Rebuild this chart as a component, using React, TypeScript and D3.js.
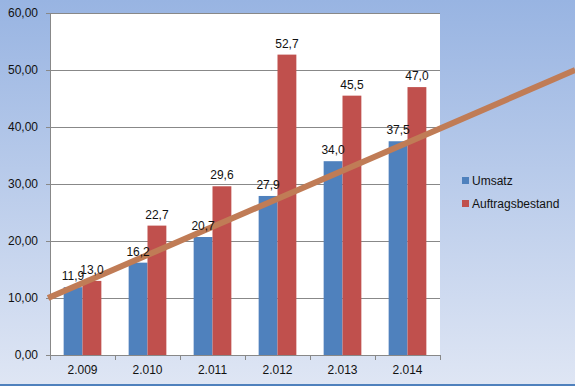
import React from "react";
import * as d3 from "d3";

const years = ["2.009", "2.010", "2.011", "2.012", "2.013", "2.014"];
const umsatz = [11.9, 16.2, 20.7, 27.9, 34.0, 37.5];
const auftragsbestand = [13.0, 22.7, 29.6, 52.7, 45.5, 47.0];
const yTicks = [0, 10, 20, 30, 40, 50, 60];
// trend line endpoints: [category position (0 = first category center), value]
const trendPoints: [number, number][] = [
  [-0.53, 10.0],
  [7.58, 50.0],
];
const seriesNames = ["Umsatz", "Auftragsbestand"];
const seriesColors = ["#4f81bd", "#c0504d"];

const W = 575;
const H = 386;
const plot = { left: 50, right: 440, top: 13, bottom: 355 };
const FONT = "'Liberation Sans', Arial, sans-serif";

const fmt2 = (v: number) => v.toFixed(2).replace(".", ",");
const fmt1 = (v: number) => v.toFixed(1).replace(".", ",");

export default function App() {
  const x = d3.scaleBand<string>().domain(years).range([plot.left, plot.right]).paddingInner(0).paddingOuter(0);
  const y = d3.scaleLinear().domain([0, 60]).range([plot.bottom, plot.top]);
  const bw = x.bandwidth();
  const barW = bw * 0.29;
  const catPos = d3
    .scaleLinear()
    .domain([0, 1])
    .range([plot.left + bw / 2, plot.left + bw * 1.5]);
  const trendLine = d3
    .line<[number, number]>()
    .x((d) => catPos(d[0]))
    .y((d) => y(d[1]));

  const series = [umsatz, auftragsbestand];

  return (
    <svg
      width={W}
      height={H}
      style={{ position: "fixed", left: 0, top: 0, display: "block" }}
      fontFamily={FONT}
    >
      <defs>
        <linearGradient id="bg" x1="0" y1="0" x2="0" y2="1">
          <stop offset="0" stopColor="#98b4e2" />
          <stop offset="1" stopColor="#dfe6f4" />
        </linearGradient>
      </defs>
      <rect x={0} y={0} width={W} height={H} fill="url(#bg)" />
      <rect x={0} y={H - 2} width={W} height={2} fill="#4f81bd" />
      <rect
        x={plot.left}
        y={plot.top}
        width={plot.right - plot.left}
        height={plot.bottom - plot.top}
        fill="#ffffff"
      />
      {yTicks.map((t) => (
        <g key={t}>
          <line
            x1={plot.left - 4}
            x2={t === 0 ? plot.left : plot.right}
            y1={y(t)}
            y2={y(t)}
            stroke="#888888"
            strokeWidth={1}
            shapeRendering="crispEdges"
          />
          <text x={38} y={y(t) + 4} textAnchor="end" fontSize={12} fill="#111">
            {fmt2(t)}
          </text>
        </g>
      ))}
      {series.map((vals, si) =>
        vals.map((v, i) => (
          <rect
            key={`${si}-${i}`}
            x={x(years[i])! + bw / 2 - barW + si * barW}
            y={y(v)}
            width={barW}
            height={y(0) - y(v)}
            fill={seriesColors[si]}
          />
        ))
      )}
      <line
        x1={plot.left}
        x2={plot.left}
        y1={plot.top}
        y2={plot.bottom}
        stroke="#888888"
        shapeRendering="crispEdges"
      />
      <line
        x1={plot.left}
        x2={plot.right}
        y1={plot.bottom}
        y2={plot.bottom}
        stroke="#888888"
        shapeRendering="crispEdges"
      />
      {d3.range(years.length + 1).map((i) => (
        <line
          key={i}
          x1={plot.left + i * bw}
          x2={plot.left + i * bw}
          y1={plot.bottom}
          y2={plot.bottom + 5}
          stroke="#888888"
          shapeRendering="crispEdges"
        />
      ))}
      {years.map((yr) => (
        <text key={yr} x={x(yr)! + bw / 2} y={374} textAnchor="middle" fontSize={12} fill="#111">
          {yr}
        </text>
      ))}
      <path d={trendLine(trendPoints)!} stroke="#c07c56" strokeWidth={6} fill="none" />
      {series.map((vals, si) =>
        vals.map((v, i) => (
          <text
            key={`l${si}-${i}`}
            x={x(years[i])! + bw / 2 - barW / 2 + si * barW}
            y={y(v) - 7}
            textAnchor="middle"
            fontSize={12}
            fill="#111"
          >
            {fmt1(v)}
          </text>
        ))
      )}
      {seriesNames.map((n, i) => (
        <g key={n}>
          <rect x={462} y={177 + i * 23} width={7} height={7} fill={seriesColors[i]} />
          <text x={472} y={185 + i * 23} fontSize={12} fill="#111">
            {n}
          </text>
        </g>
      ))}
    </svg>
  );
}
